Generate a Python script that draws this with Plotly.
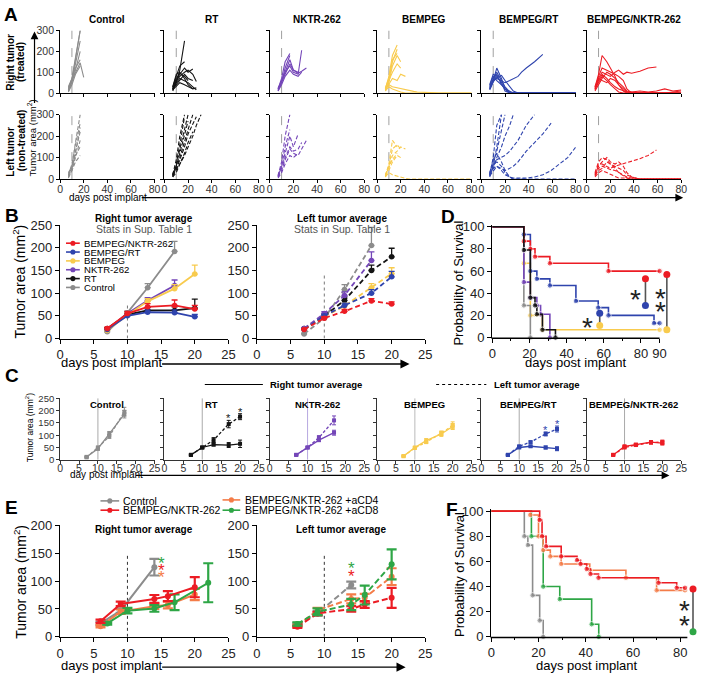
import plotly.graph_objects as go

# ============================ DATA ============================
TREAT_DAY = 10

# ---- Panel A: individual tumour curves (values at A_DAYS, truncated when the mouse left) ----
A_DAYS = [7, 10, 13, 17, 20, 24, 27, 31, 34, 38, 45, 52, 59, 66, 73, 80]
A_TITLES = ["Control", "RT", "NKTR-262", "BEMPEG", "BEMPEG/RT", "BEMPEG/NKTR-262"]
A_XTICKS = [0, 20, 40, 60, 80]
A_YTICKS = [0, 100, 200, 300]

A_CTRL_R = [[10, 60, 160, 300], [15, 70, 170, 300], [20, 60, 140, 250], [10, 50, 110, 200],
            [30, 70, 120, 160], [25, 60, 100, 145, 75], [5, 40, 90, 130]]
A_CTRL_L = [[10, 60, 170, 300], [20, 70, 160, 260], [15, 50, 130, 220], [5, 40, 100, 180],
            [30, 60, 110, 150], [10, 40, 80, 110], [20, 50, 120, 240]]
A_RT_R = [[20, 50, 110, 250], [30, 80, 130, 150], [15, 60, 90, 120, 100, 115], [25, 70, 95, 80, 60],
          [20, 40, 60, 90, 70, 60], [10, 50, 70, 60, 50, 30, 15], [30, 90, 100, 70, 40, 20],
          [15, 35, 50, 40, 30, 20, 25], [20, 60, 80, 100, 110, 90, 55]]
A_RT_L = [[20, 90, 200, 300], [15, 70, 160, 290], [10, 60, 140, 240, 300], [20, 50, 100, 180, 230, 300],
          [15, 40, 70, 110, 150, 200, 250, 300], [25, 60, 120, 200, 270], [10, 30, 70, 120, 170, 220],
          [20, 45, 90, 150, 210, 260, 290]]
A_NKTR_R = [[20, 70, 150, 190], [10, 50, 120, 180], [15, 60, 110, 160, 110, 100],
            [20, 60, 100, 130, 100, 90, 205], [10, 40, 80, 110, 90, 80, 100],
            [25, 50, 90, 140, 110, 95, 105, 120]]
A_NKTR_L = [[15, 80, 200, 300], [10, 60, 150, 230], [20, 60, 120, 200, 150, 210],
            [10, 40, 90, 140, 120, 110, 140, 180], [15, 50, 100, 150, 130, 140, 170],
            [5, 30, 70, 110, 100, 120]]
A_BEMPEG_R = [[20, 80, 180, 230], [15, 60, 150, 210], [25, 70, 160, 190], [10, 50, 130, 180, 150],
              [20, 60, 100, 140, 120], [15, 45, 70, 60, 90, 80],
              [20, 40, 30, 25, 20, 15, 10, 8, 5, 3, 2, 0, 0, 0, 0, 0],
              [10, 30, 20, 10, 5, 0, 0, 0, 0, 0, 0, 0, 0, 0, 0, 0]]
A_BEMPEG_L = [[15, 70, 180, 150], [10, 60, 140, 160, 140], [20, 50, 110, 130, 150, 140],
              [15, 40, 80, 110, 100], [20, 60, 90, 120],
              [10, 30, 20, 15, 10, 5, 0, 0, 0, 0, 0, 0, 0, 0, 0, 0]]
A_BRT_R = [[30, 60, 120, 70, 20, 0, 0, 0, 0, 0, 0, 0, 0, 0, 0, 0],
           [40, 90, 80, 50, 10, 0, 0, 0, 0, 0, 0, 0, 0, 0, 0, 0],
           [20, 70, 100, 60, 30, 5, 0, 0, 0, 0, 0, 0, 0, 0, 0, 0],
           [25, 60, 70, 60, 50, 60, 70, 80, 100, 120, 150, 185],
           [15, 50, 90, 40, 20, 0, 0, 0, 0, 0, 0, 0, 0, 0, 0, 0],
           [35, 80, 60, 40, 20, 10, 0, 0, 0, 0, 0, 0, 0, 0, 0, 0],
           [20, 55, 75, 85, 60, 30, 10, 0]]
A_BRT_L = [[20, 100, 250, 300], [15, 60, 150, 300], [25, 70, 130, 220, 300],
           [20, 50, 100, 150, 200, 250, 300],
           [10, 60, 90, 100, 110, 130, 150, 180, 210, 250, 300],
           [20, 50, 60, 50, 40, 50, 60, 80, 100, 130, 170, 210, 260],
           [15, 40, 60, 40, 20, 10, 5, 5, 5, 5, 10, 20, 40, 70, 100, 150],
           [25, 70, 80, 60, 30, 10, 0, 0, 0, 0, 0, 0, 0, 0, 0, 0],
           [30, 90, 120, 80, 40, 10, 0, 0, 0, 0]]
A_BNK_R = [[30, 90, 180, 150, 120, 80, 40, 10, 0, 0, 0, 0, 0, 0, 0, 0],
           [20, 80, 120, 110, 100, 90, 80, 60, 20, 0, 0, 0, 0, 0, 0, 0],
           [25, 70, 100, 90, 80, 100, 110, 90, 100, 95, 105, 120, 125],
           [15, 60, 90, 70, 50, 30, 20, 10, 5, 5, 10, 5, 10, 20, 10, 15],
           [20, 50, 80, 60, 40, 20, 5, 0, 0, 0, 0, 0, 0, 0, 0, 0],
           [30, 70, 60, 50, 70, 60, 40, 20, 5, 0, 0, 0, 0, 0, 0, 0],
           [10, 40, 70, 100, 90, 70, 50, 30, 10, 5, 0, 0, 0, 0, 5, 10]]
A_BNK_L = [[30, 80, 100, 90, 70, 60, 50, 40, 20, 10, 0, 0, 0, 0, 0, 0],
           [20, 60, 80, 100, 80, 70, 80, 60, 30, 10, 0, 0, 0, 0, 0, 0],
           [25, 70, 70, 60, 50, 60, 65, 70, 75, 80, 95, 110, 135],
           [15, 50, 60, 50, 45, 40, 30, 20, 10, 5, 0, 0, 0, 0, 0, 0],
           [20, 40, 50, 80, 70, 50, 30, 15, 5, 0, 0, 0, 0, 0, 0, 0],
           [10, 30, 40, 30, 20, 10, 5, 5, 5, 0, 0, 0, 0, 0, 0, 0]]

# ---- Panel B: group averages (mean, SEM) ----
B_DAYS = [7, 10, 13, 17, 20]
B_NAMES = ["BEMPEG/NKTR-262", "BEMPEG/RT", "BEMPEG", "NKTR-262", "RT", "Control"]
B_R_BNK, B_R_BNK_E = [22, 55, 70, 73, 65], [3, 5, 7, 12, 8]
B_R_BRT, B_R_BRT_E = [20, 50, 58, 57, 48], [2, 4, 5, 6, 5]
B_R_BEMPEG, B_R_BEMPEG_E = [18, 52, 82, 110, 142], [3, 5, 6, 9, 20]
B_R_NKTR, B_R_NKTR_E = [20, 55, 84, 117], [2, 4, 6, 12]
B_R_RT, B_R_RT_E = [22, 53, 62, 62, 67], [2, 5, 6, 8, 20]
B_R_CTRL, B_R_CTRL_E = [15, 57, 112, 192], [2, 4, 9, 22]
B_L_BNK, B_L_BNK_E = [20, 45, 60, 83, 76], [2, 3, 4, 5, 5]
B_L_BRT, B_L_BRT_E = [20, 50, 73, 100, 136], [2, 3, 5, 8, 12]
B_L_BEMPEG, B_L_BEMPEG_E = [20, 48, 72, 112, 143], [2, 3, 6, 9, 13]
B_L_NKTR, B_L_NKTR_E = [22, 55, 95, 172], [2, 4, 8, 19]
B_L_RT, B_L_RT_E = [22, 50, 84, 150, 180], [2, 4, 8, 12, 19]
B_L_CTRL, B_L_CTRL_E = [10, 45, 108, 205], [2, 4, 11, 40]

# ---- Panel C: right (solid) vs left (dashed) averages per group ----
C_DAYS = [7, 10, 13, 17, 20]
C_CTRL_R, C_CTRL_RE = [12, 45, 105, 185], [2, 6, 10, 15]
C_CTRL_L, C_CTRL_LE = [10, 50, 95, 195], [2, 5, 8, 18]
C_RT_R, C_RT_RE = [20, 50, 62, 60, 65], [2, 3, 6, 10, 15]
C_RT_L, C_RT_LE = [20, 50, 80, 145, 175], [2, 3, 10, 15, 12]
C_NKTR_R, C_NKTR_RE = [20, 50, 80, 110], [2, 3, 6, 10]
C_NKTR_L, C_NKTR_LE = [20, 50, 90, 160], [2, 3, 8, 18]
C_BEMPEG_R, C_BEMPEG_RE = [15, 50, 78, 105, 135], [2, 3, 8, 10, 12]
C_BEMPEG_L, C_BEMPEG_LE = [15, 48, 72, 108, 140], [2, 3, 6, 9, 14]
C_BRT_R, C_BRT_RE = [20, 50, 55, 50, 45], [2, 3, 4, 6, 8]
C_BRT_L, C_BRT_LE = [20, 55, 72, 105, 125], [2, 3, 4, 8, 12]
C_BNK_R, C_BNK_RE = [20, 55, 62, 72, 68], [2, 3, 4, 5, 8]
C_BNK_L, C_BNK_LE = [20, 50, 60, 70, 72], [2, 3, 4, 6, 8]
C_STAR_DAYS = [17, 20]

# ---- Panel D: survival (Kaplan-Meier steps) ----
D_T_CTRL, D_S_CTRL = [0, 17, 20.5], [100, 29, 0]
D_T_BEMPEG, D_S_BEMPEG = [0, 17, 20.5, 27, 90], [100, 67, 20, 7, 7]
D_T_NKTR, D_S_NKTR = [0, 17, 20.5, 24, 26, 31], [100, 50, 36, 29, 21, 0]
D_T_RT, D_S_RT = [0, 17, 20.5, 23, 24, 27, 34], [100, 79, 36, 29, 21, 7, 0]
D_T_BRT, D_S_BRT = [0, 17, 20.5, 24, 31, 45, 57, 62.5, 87, 90], [100, 93, 60, 53, 47, 33, 27, 20, 13, 13]
D_T_BNK, D_S_BNK = [0, 17, 20.5, 23, 31, 62.5, 90], [100, 87, 80, 73, 67, 60, 60]
D_SIG_X = [82.4, 93.9, 57.8]
D_SIG_TOP = [53, 57, 22]
D_SIG_BOT = [29, 7, 11]
D_SIG_LABEL_X = [77.3, 90.3, 51.5]
D_SIG_LABEL_Y = [[41], [42, 30], [16]]

# ---- Panel E: depletion averages ----
E_NAMES = ["Control", "BEMPEG/NKTR-262", "BEMPEG/NKTR-262 +aCD4", "BEMPEG/NKTR-262 +aCD8"]
E_DAYS_GRAY = [6, 9, 14]
E_DAYS = [6, 9, 14, 16, 20]
E_DAYS_GREEN_R = [7, 10, 14, 17, 22]
E_R_GRAY, E_R_GRAY_E = [24, 47, 125], [3, 4, 15]
E_R_RED, E_R_RED_E = [28, 59, 68, 73, 89], [3, 4, 7, 9, 18]
E_R_ORANGE, E_R_ORANGE_E = [19, 45, 55, 57, 76], [2, 4, 5, 6, 10]
E_R_GREEN, E_R_GREEN_E = [24, 47, 51, 62, 97], [2, 5, 6, 14, 35]
E_L_GRAY, E_L_GRAY_E = [22, 42, 93], [3, 4, 6]
E_L_RED, E_L_RED_E = [18, 42, 50, 58, 70], [2, 3, 5, 6, 18]
E_L_ORANGE, E_L_ORANGE_E = [20, 48, 68, 70, 108], [2, 4, 8, 7, 15]
E_L_GREEN, E_L_GREEN_E = [23, 45, 58, 75, 130], [3, 6, 10, 17, 27]
E_STAR_R_X, E_STAR_R_Y = 15, [140, 127, 114]
E_STAR_L_X, E_STAR_L_Y = 14, [130, 117]

# ---- Panel F: survival ----
F_T_CTRL, F_S_CTRL = [0, 14, 15.5, 17.5, 20.5, 22], [100, 80, 73, 33, 13, 0]
F_T_GREEN, F_S_GREEN = [0, 17, 22, 29, 42.5, 45.5], [100, 80, 40, 30, 10, 0]
F_T_ORANGE, F_S_ORANGE = [0, 16.5, 20, 22, 25, 29.6, 41.7, 57, 70, 82], [100, 97, 80, 69, 64, 58, 53, 47, 37, 37]
F_T_RED, F_S_RED = ([0, 20.5, 21.5, 23.2, 29.6, 36.3, 37.8, 40.4, 42, 45.4, 70.8, 78.5, 82],
                    [100, 93, 80, 72, 64, 61, 58, 54, 50, 47, 43, 39, 39])
F_SIG_X, F_SIG_TOP, F_SIG_BOT = 85.4, 38, 4
F_SIG_LABEL_X, F_SIG_LABEL_Y = 81.8, [27, 15]

# ============================ STYLE ============================
GRAY = "#8c8c8c"
BLACK = "#141414"
PURPLE = "#7446b8"
YELLOW = "#f8cb4e"
BLUE = "#2f44ad"
RED = "#ec1c24"
ORANGE = "#f47c48"
GREEN = "#2ea646"
FONT = "Liberation Sans, Arial, sans-serif"
W, H = 703, 682


def PX(x):
    return x / W


def PY(y):
    return 1 - y / H


fig = go.Figure()
AX = {}
shapes = []
annots = []
n_ax = [0]


def make_axes(x0, x1, ytop, ybot, xr, yr, xt, yt, xlab=True, ylab=True, tfs=11, tl=4, lw=1.2,
              lc="black", tcol="#222", xline=True, yline=True, xminor=None, xtfs=None, xstand=0):
    n_ax[0] += 1
    s = "" if n_ax[0] == 1 else str(n_ax[0])
    common = dict(showgrid=False, zeroline=False, ticks="outside", ticklen=tl, tickwidth=lw,
                  tickcolor=lc, linecolor=lc, linewidth=lw, fixedrange=True, tickmode="array")
    xa = dict(common, domain=[PX(x0), PX(x1)], range=xr, anchor="y" + s, tickvals=xt,
              showticklabels=xlab, showline=xline, ticklabelstandoff=xstand,
              tickfont=dict(size=xtfs or tfs, color=tcol, family=FONT))
    if xminor:
        xa["minor"] = dict(tickvals=xminor, ticklen=max(tl - 2, 2), tickcolor=lc, ticks="outside", tickwidth=lw)
    ya = dict(common, domain=[PY(ybot), PY(ytop)], range=yr, anchor="x" + s, tickvals=yt,
              showticklabels=ylab, showline=yline, tickfont=dict(size=tfs, color=tcol, family=FONT))
    AX["xaxis" + s] = xa
    AX["yaxis" + s] = ya
    return "x" + s, "y" + s


def T(x, y, text, size=10, bold=False, color="black", angle=0, xanchor="center", yanchor="middle"):
    if bold:
        text = "<b>" + text + "</b>"
    annots.append(dict(x=PX(x), y=PY(y), xref="paper", yref="paper", text=text, showarrow=False,
                       font=dict(size=size, color=color, family=FONT), textangle=angle,
                       xanchor=xanchor, yanchor=yanchor))


def ARROW(x0, y0, x1, y1, width=1.2):
    annots.append(dict(x=PX(x1), y=PY(y1), xref="paper", yref="paper", ax=x0 - x1, ay=y0 - y1,
                       axref="pixel", ayref="pixel", showarrow=True, arrowhead=2, arrowsize=1.3,
                       arrowwidth=width, arrowcolor="black", text=""))


def pline(x0, y0, x1, y1, color="black", width=1.2, dash="solid"):
    shapes.append(dict(type="line", xref="paper", yref="paper", x0=PX(x0), y0=PY(y0), x1=PX(x1), y1=PY(y1),
                       line=dict(color=color, width=width, dash=dash)))


def vline(xa, ya, x, y0, y1, color, width, dash):
    shapes.append(dict(type="line", xref=xa, yref=ya, x0=x, x1=x, y0=y0, y1=y1,
                       line=dict(color=color, width=width, dash=dash), layer="below"))


def star(xa, ya, x, y, text, size, color):
    annots.append(dict(x=x, y=y, xref=xa, yref=ya, text=text, showarrow=False,
                       font=dict(size=size, color=color, family=FONT), yshift=-0.27 * size))


def legend_item(xi0, xi1, xt, y, color, label, size=10, dash="solid"):
    pline(xi0, y, xi1, y, color, 1.6, dash)
    cx, r = (xi0 + xi1) / 2, 2.6
    shapes.append(dict(type="circle", xref="paper", yref="paper", x0=PX(cx - r), x1=PX(cx + r),
                       y0=PY(y + r), y1=PY(y - r), fillcolor=color, line=dict(width=0)))
    T(xt, y, label, size, xanchor="left")


def spaghetti(xa, ya, curves, color, dash):
    xs, ys = [], []
    for c in curves:
        xs += A_DAYS[:len(c)] + [None]
        ys += list(c) + [None]
    fig.add_trace(go.Scatter(x=xs, y=ys, mode="lines", line=dict(color=color, width=1.1, dash=dash),
                             xaxis=xa, yaxis=ya, showlegend=False, hoverinfo="skip"))


def mean_line(xa, ya, days, vals, err, color, dash="solid", size=5, width=1.6, cap=3, both=False,
              ethick=1.3, symbol="circle"):
    n = len(vals)
    ey = dict(type="data", array=err, color=color, thickness=ethick, width=cap, visible=True)
    if both:
        ey["symmetric"] = True
    else:
        ey.update(symmetric=False, arrayminus=[0] * n)
    fig.add_trace(go.Scatter(x=days[:n], y=vals, mode="lines+markers",
                             line=dict(color=color, width=width, dash=dash),
                             marker=dict(color=color, size=size, symbol=symbol), error_y=ey,
                             xaxis=xa, yaxis=ya, showlegend=False, hoverinfo="skip", cliponaxis=False))


def km(xa, ya, t, s, color, msize=5.5):
    fig.add_trace(go.Scatter(x=t, y=s, mode="lines+markers", line=dict(color=color, width=1.6, shape="hv"),
                             marker=dict(color=color, size=[0] + [msize] * (len(t) - 1)),
                             xaxis=xa, yaxis=ya, showlegend=False, hoverinfo="skip", cliponaxis=False))


def bracket(xa, ya, x, top, bot, ctop, cbot):
    fig.add_trace(go.Scatter(x=[x, x], y=[top, bot], mode="lines+markers",
                             line=dict(color="#555555", width=1.6),
                             marker=dict(color=[ctop, cbot], size=7),
                             xaxis=xa, yaxis=ya, showlegend=False, hoverinfo="skip", cliponaxis=False))


# ============================ PANEL A ============================
A_X0 = [57, 163, 270, 379, 485, 592]
A_COLORS = [GRAY, BLACK, PURPLE, YELLOW, BLUE, RED]
A_R = [A_CTRL_R, A_RT_R, A_NKTR_R, A_BEMPEG_R, A_BRT_R, A_BNK_R]
A_L = [A_CTRL_L, A_RT_L, A_NKTR_L, A_BEMPEG_L, A_BRT_L, A_BNK_L]
for i in range(6):
    x0 = A_X0[i]
    for (yt_, yb_, curves, dash, xl) in [(24, 88, A_R[i], "solid", False), (110, 176, A_L[i], "4px,2px", True)]:
        xa, ya = make_axes(x0, x0 + 96, yt_, yb_, [0, 80], [0, 300], A_XTICKS, A_YTICKS, xlab=xl,
                           ylab=(i == 0), tfs=10.5, tl=3, lw=1, tcol="#333", xstand=-3)
        vline(xa, ya, TREAT_DAY, 0, 300, "#888888", 0.8, "dash")
        spaghetti(xa, ya, curves, A_COLORS[i], dash)
    T(x0 + 48, 13, A_TITLES[i], 10, bold=True)

T(7, 8, "A", 19, bold=True)
T(7, 56, "Right tumor", 10, bold=True, angle=-90)
T(17.5, 56, "(treated)", 10, bold=True, angle=-90)
T(7, 148, "Left tumor", 10, bold=True, angle=-90)
T(17.5, 136, "(non-treated)", 10, bold=True, angle=-90)
T(29, 134, "Tumor area (mm<sup>2</sup>)", 9.5, angle=-90)
ARROW(31, 98, 31, 25)
T(106, 195, "days post implant", 10)
ARROW(147, 195, 690, 195)

# ============================ PANEL B ============================
B_R_SETS = [(B_R_CTRL, B_R_CTRL_E, GRAY), (B_R_RT, B_R_RT_E, BLACK), (B_R_NKTR, B_R_NKTR_E, PURPLE),
            (B_R_BEMPEG, B_R_BEMPEG_E, YELLOW), (B_R_BRT, B_R_BRT_E, BLUE), (B_R_BNK, B_R_BNK_E, RED)]
B_L_SETS = [(B_L_CTRL, B_L_CTRL_E, GRAY), (B_L_RT, B_L_RT_E, BLACK), (B_L_NKTR, B_L_NKTR_E, PURPLE),
            (B_L_BEMPEG, B_L_BEMPEG_E, YELLOW), (B_L_BRT, B_L_BRT_E, BLUE), (B_L_BNK, B_L_BNK_E, RED)]
xa, ya = make_axes(57, 228, 223, 339, [0, 25], [0, 250], [0, 5, 10, 15, 20, 25], [0, 50, 100, 150, 200, 250],
                   tfs=13, tl=4, lw=1.4)
vline(xa, ya, TREAT_DAY, 0, 76, "#777777", 1, "dot")
for v, e, c in B_R_SETS:
    mean_line(xa, ya, B_DAYS, v, e, c, size=5.5, width=1.8, cap=3)
xa, ya = make_axes(257, 428, 223, 339, [0, 25], [0, 250], [0, 5, 10, 15, 20, 25], [0, 50, 100, 150, 200, 250],
                   tfs=13, tl=4, lw=1.4)
vline(xa, ya, TREAT_DAY, 0, 139, "#777777", 1, "dot")
for v, e, c in B_L_SETS:
    mean_line(xa, ya, B_DAYS, v, e, c, dash="5px,3px", size=5.5, width=1.8, cap=3)

T(8, 213, "B", 19, bold=True)
T(142, 216, "Right tumor average", 10, bold=True)
T(142, 227, "Stats in Sup. Table 1", 10.5, color="#555")
T(343, 216, "Left tumor average", 10, bold=True)
T(343, 227, "Stats in Sup. Table 1", 10.5, color="#555")
T(15, 281, "Tumor area (mm<sup>2</sup>)", 14, angle=-90)
T(110, 363, "days post implant", 13)
ARROW(163, 365, 412, 365, 1.4)
for i, (name, c) in enumerate(zip(B_NAMES, [RED, BLUE, YELLOW, PURPLE, BLACK, GRAY])):
    legend_item(63, 77, 79, 241.5 + i * 9.05, c, name, 9.6)

# ============================ PANEL D ============================
D_PXD = 1.889
xa, ya = make_axes(496, 496 + 97 * D_PXD, 338 - 102 * 1.133, 338, [0, 97], [0, 102],
                   [0, 20, 40, 60, 80, 90], [0, 20, 40, 60, 80, 100], tfs=13, tl=4, lw=1.4,
                   xline=False, xminor=[10, 30, 50, 70])
pline(495.3, 338.7, 496 + 90 * D_PXD, 338.7, "black", 1.4)
for t, s, c in [(D_T_BEMPEG, D_S_BEMPEG, YELLOW), (D_T_CTRL, D_S_CTRL, GRAY), (D_T_NKTR, D_S_NKTR, PURPLE),
                (D_T_BRT, D_S_BRT, BLUE), (D_T_BNK, D_S_BNK, RED), (D_T_RT, D_S_RT, BLACK)]:
    km(xa, ya, t, s, c)
for x, top, bot, ct, cb in zip(D_SIG_X, D_SIG_TOP, D_SIG_BOT, [RED, RED, BLUE], [BLUE, YELLOW, YELLOW]):
    bracket(xa, ya, x, top, bot, ct, cb)
for lx, lys in zip(D_SIG_LABEL_X, D_SIG_LABEL_Y):
    for ly in lys:
        star(xa, ya, lx, ly, "*", 28, "#222")
T(451, 214, "D", 19, bold=True)
T(462, 282, "Probability of Survival", 13, angle=-90)
T(581, 363, "days post implant", 13)

# ============================ PANEL C ============================
C_SETS = [(C_CTRL_R, C_CTRL_RE, C_CTRL_L, C_CTRL_LE, GRAY, "#aaaaaa"),
          (C_RT_R, C_RT_RE, C_RT_L, C_RT_LE, BLACK, "#aaaaaa"),
          (C_NKTR_R, C_NKTR_RE, C_NKTR_L, C_NKTR_LE, PURPLE, "#b7a8e0"),
          (C_BEMPEG_R, C_BEMPEG_RE, C_BEMPEG_L, C_BEMPEG_LE, YELLOW, "#bbbbbb"),
          (C_BRT_R, C_BRT_RE, C_BRT_L, C_BRT_LE, BLUE, "#aaaaaa"),
          (C_BNK_R, C_BNK_RE, C_BNK_L, C_BNK_LE, RED, "#aaaaaa")]
C_STARRED = [False, True, False, False, True, False]
for i, (r, re_, l, le, c, vc) in enumerate(C_SETS):
    x0 = A_X0[i]
    xa, ya = make_axes(x0, x0 + 96, 400, 463, [0, 25], [0, 250], [0, 5, 10, 15, 20, 25],
                       [0, 50, 100, 150, 200, 250], ylab=(i == 0), tfs=9.5, xtfs=10.5, tl=3, lw=1,
                       lc="#333", tcol="#333", xstand=-4)
    vline(xa, ya, TREAT_DAY, 0, 250, vc, 1, "solid")
    mean_line(xa, ya, C_DAYS, r, re_, c, size=4, width=1.3, cap=2, both=True, ethick=1, symbol="square")
    mean_line(xa, ya, C_DAYS, l, le, c, dash="3px,2px", size=4, width=1.3, cap=2, both=True, ethick=1,
              symbol="square")
    if C_STARRED[i]:
        for d in C_STAR_DAYS:
            k = C_DAYS.index(d)
            star(xa, ya, d, l[k] + le[k] + 20, "*", 11, c)
    T(x0 + 48, 406, A_TITLES[i], 9.5, bold=True)

T(8, 377, "C", 19, bold=True)
pline(204, 386, 263, 386, "black", 1)
T(268, 386, "Right tumor average", 9.5, bold=True, xanchor="left")
pline(439, 386, 490, 386, "black", 1, "dot")
T(496, 386, "Left tumor average", 9.5, bold=True, xanchor="left")
T(26, 430, "Tumor area (mm<sup>2</sup>)", 8.5, angle=-90)
T(104, 478, "day post implant", 10)
ARROW(141, 479, 676, 479, 1.2)

# ============================ PANEL E ============================
E_R_SETS = [(E_DAYS_GRAY, E_R_GRAY, E_R_GRAY_E, GRAY), (E_DAYS, E_R_ORANGE, E_R_ORANGE_E, ORANGE),
            (E_DAYS_GREEN_R, E_R_GREEN, E_R_GREEN_E, GREEN), (E_DAYS, E_R_RED, E_R_RED_E, RED)]
E_L_SETS = [(E_DAYS_GRAY, E_L_GRAY, E_L_GRAY_E, GRAY), (E_DAYS, E_L_ORANGE, E_L_ORANGE_E, ORANGE),
            (E_DAYS, E_L_RED, E_L_RED_E, RED), (E_DAYS, E_L_GREEN, E_L_GREEN_E, GREEN)]
xa, ya = make_axes(57, 228, 530, 644, [0, 25], [0, 200], [0, 5, 10, 15, 20, 25], [0, 50, 100, 150, 200],
                   tfs=13, tl=4, lw=1.4)
vline(xa, ya, TREAT_DAY, 0, 150, "#333333", 1, "dot")
for d, v, e, c in E_R_SETS:
    mean_line(xa, ya, d, v, e, c, size=6, width=2, cap=5, both=True, ethick=2.2)
for y_, c in zip(E_STAR_R_Y, [GREEN, RED, ORANGE]):
    star(xa, ya, E_STAR_R_X, y_, "*", 17, c)
xa, ya = make_axes(257, 428, 530, 644, [0, 25], [0, 200], [0, 5, 10, 15, 20, 25], [0, 50, 100, 150, 200],
                   tfs=13, tl=4, lw=1.4)
vline(xa, ya, TREAT_DAY, 0, 150, "#333333", 1, "dot")
for d, v, e, c in E_L_SETS:
    mean_line(xa, ya, d, v, e, c, dash="6px,3px", size=6, width=2, cap=5, both=True, ethick=2.2)
for y_, c in zip(E_STAR_L_Y, [GREEN, RED]):
    star(xa, ya, E_STAR_L_X, y_, "*", 17, c)

T(8, 512, "E", 19, bold=True)
legend_item(98, 117, 119, 505, GRAY, E_NAMES[0], 10.5)
legend_item(98, 117, 119, 514.5, RED, E_NAMES[1], 10.5)
legend_item(222, 240, 243, 504, ORANGE, E_NAMES[2], 10.5)
legend_item(222, 240, 243, 514.5, GREEN, E_NAMES[3], 10.5)
T(142, 534, "Right tumor average", 10, bold=True)
T(342, 534, "Left tumor average", 10, bold=True)
T(16, 588, "Tumor area (mm<sup>2</sup>)", 14, angle=-90)
T(110, 673, "days post implant", 13)
ARROW(163, 675, 408, 675, 1.4)

# ============================ PANEL F ============================
F_PXD = 2.4
xa, ya = make_axes(495, 495 + 86.5 * F_PXD, 644 - 102 * 1.285, 644, [0, 86.5], [0, 102],
                   [0, 20, 40, 60, 80], [0, 20, 40, 60, 80, 100], tfs=13, tl=4, lw=1.4,
                   xline=False, xminor=[10, 30, 50, 70])
pline(494.3, 644.7, 495 + 83 * F_PXD, 644.7, "black", 1.4)
for t, s, c in [(F_T_CTRL, F_S_CTRL, GRAY), (F_T_GREEN, F_S_GREEN, GREEN),
                (F_T_ORANGE, F_S_ORANGE, ORANGE), (F_T_RED, F_S_RED, RED)]:
    km(xa, ya, t, s, c)
bracket(xa, ya, F_SIG_X, F_SIG_TOP, F_SIG_BOT, RED, GREEN)
for ly in F_SIG_LABEL_Y:
    star(xa, ya, F_SIG_LABEL_X, ly, "*", 28, "#222")
T(455, 514, "F", 19, bold=True)
T(462, 580, "Probability of Survival", 13, angle=-90)
T(592, 673, "days post implant", 13)

# ============================ LAYOUT ============================
fig.update_layout(width=W, height=H, margin=dict(l=0, r=0, t=0, b=0, pad=0),
                  paper_bgcolor="white", plot_bgcolor="white", showlegend=False,
                  font=dict(family=FONT, color="black"), shapes=shapes, annotations=annots, **AX)
fig.write_html("out.html", config={"displayModeBar": False},
               post_script="document.body.style.margin='0';document.body.style.padding='0';")
